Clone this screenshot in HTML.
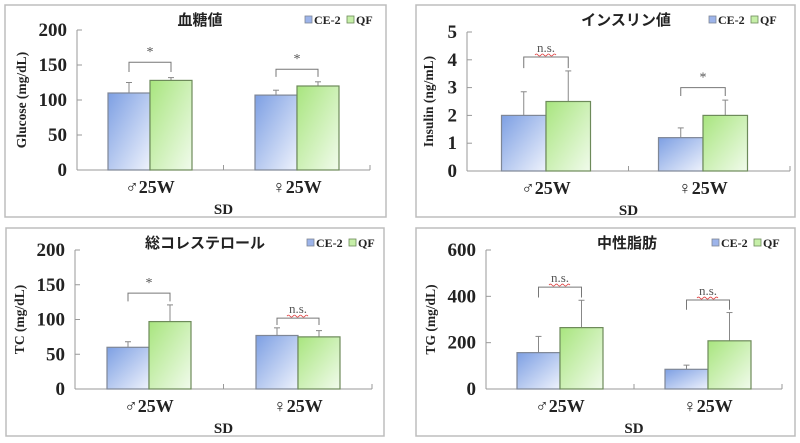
<!DOCTYPE html>
<html><head><meta charset="utf-8">
<style>
body{margin:0;width:800px;height:443px;background:#fff;overflow:hidden}
svg{display:block}
text{font-family:"Liberation Serif","Noto Serif CJK SC",serif}
.t{font-family:"Liberation Sans","Noto Sans CJK JP",sans-serif;font-size:15px;font-weight:bold}
</style></head><body>
<svg id="s" width="800" height="443" xmlns="http://www.w3.org/2000/svg">
<defs>
<linearGradient id="gb" x1="0" y1="0" x2="1" y2="1"><stop offset="0" stop-color="#7d9fe3"/><stop offset="1" stop-color="#eef2fc"/></linearGradient>
<linearGradient id="gg" x1="0" y1="0" x2="1" y2="1"><stop offset="0" stop-color="#a8e57e"/><stop offset="1" stop-color="#f1fbec"/></linearGradient>
</defs>
</svg>
<script>
const categories = ["♂25W","♀25W"];
const series = ["CE-2","QF"];
const glucoseMean = [[110,128],[107,120]];
const glucoseErr = [[15,4],[7,6]];
const glucoseSig = ["*","*"];
const glucoseBr = [[154,140],[144,133]];
const insulinMean = [[2.0,2.5],[1.2,2.0]];
const insulinErr = [[0.85,1.1],[0.35,0.55]];
const insulinSig = ["n.s.","*"];
const insulinBr = [[4.1,3.7],[3.0,2.7]];
const tcMean = [[60,97],[77,75]];
const tcErr = [[8,24],[11,9]];
const tcSig = ["*","n.s."];
const tcBr = [[138,126],[102,92]];
const tgMean = [[157,265],[85,208]];
const tgErr = [[70,118],[18,122]];
const tgSig = ["n.s.","n.s."];
const tgBr = [[440,395],[384,342]];
const glucoseTicks = [0,50,100,150,200];
const insulinTicks = [0,1,2,3,4,5];
const tcTicks = [0,50,100,150,200];
const tgTicks = [0,200,400,600];

const S=document.getElementById('s');
const NS='http://www.w3.org/2000/svg';
function mk(tag,at,parent){const e=document.createElementNS(NS,tag);for(const k in at)e.setAttribute(k,at[k]);(parent||S).appendChild(e);return e;}

function panel(p){
  const g=mk('g',{});
  
  
  const box=mk('rect',{x:p.bx,y:p.by,width:p.bw,height:p.bh,fill:'none',stroke:'#bdbdbd','stroke-width':1.5},g);
  
  
  const max=p.ticks[p.ticks.length-1];
  const y=v=>p.y0-(v/max)*(p.y0-p.ytop);
  const ya=mk('line',{x1:p.ax,y1:p.ytop,x2:p.ax,y2:p.y0,stroke:'#999'},g);
  
  
  const xa=mk('line',{x1:p.ax,y1:p.y0,x2:p.axEnd,y2:p.y0,stroke:'#999'},g);
  
  
  const mid=(p.ax+p.axEnd)/2;
  mk('line',{x1:mid,y1:p.y0,x2:mid,y2:p.y0-5,stroke:'#999'},g);
  mk('line',{x1:p.axEnd,y1:p.y0,x2:p.axEnd,y2:p.y0-5,stroke:'#999'},g);
  p.ticks.forEach(t=>{
    mk('line',{x1:p.ax,y1:y(t),x2:p.ax+5,y2:y(t),stroke:'#999'},g);
    const tx=mk('text',{x:p.ax-10,y:y(t)+6,'text-anchor':'end','font-size':19,'font-weight':'bold',fill:'#222'},g);
    tx.textContent=t;
    
    
  });
  const yt=mk('text',{x:0,y:0,transform:`translate(${p.ax-p.ytOff},${(p.y0+p.ytop)/2}) rotate(-90)`,'text-anchor':'middle','font-size':13.5,'font-weight':'bold',fill:'#222'},g);
  yt.textContent=p.ytitle;
  
  
  categories.forEach((c,i)=>{
    const cx=p.centers[i];
    const bw=p.barW;
    series.forEach((s,j)=>{
      const x0=cx-bw+j*bw;
      const v=p.mean[i][j], e=p.err[i][j];
      const errx=x0+bw/2;
      const el=mk('line',{x1:errx,y1:y(v),x2:errx,y2:y(v+e),stroke:'#888'},g);
      
      
      mk('line',{x1:errx-3,y1:y(v+e),x2:errx+3,y2:y(v+e),stroke:'#888'},g);
      const r=mk('rect',{x:x0,y:y(v),width:bw,height:p.y0-y(v),fill:j==0?'url(#gb)':'url(#gg)',stroke:j==0?'#7f8796':'#6d8a5a','stroke-width':1.2},g);
      
      
    });
    const bt=y(p.br[i][0]), bl=y(p.br[i][1]);
    const lx=cx-bw/2, rx=cx+bw/2;
    const br=mk('path',{d:`M${lx},${bl}V${bt}H${rx}V${bl}`,fill:'none',stroke:'#777'},g);
    
    
    const sg=mk('text',{x:cx,y:bt-(p.sig[i]=='*'?6:5),'text-anchor':'middle','font-size':p.sig[i]=='*'?14:13,fill:'#555'},g);
    sg.textContent=p.sig[i];
    
    
    if(p.sig[i]!='*') mk('path',{d:`M${cx-11},${bt-2} q1.5,-2 3,0 t3,0 t3,0 t3,0 t3,0 t3,0 t3,0`,fill:'none',stroke:'#e04040','stroke-width':0.8},g);
    const cl=mk('text',{x:cx,y:p.y0+23,'text-anchor':'middle','font-size':18,'font-weight':'bold',fill:'#222'},g);
    cl.textContent=c;
    
    
  });
  const xt=mk('text',{x:mid,y:p.y0+44,'text-anchor':'middle','font-size':15,'font-weight':'bold',fill:'#222'},g);
  xt.textContent='SD';
  
  
  const ti=mk('text',{x:p.tx,y:p.by+20,'text-anchor':'middle',class:'t',fill:'#222'},g);
  ti.textContent=p.title;
  
  
  const lx=p.lx, ly=p.by+11;
  const l1=mk('rect',{x:lx,y:ly,width:7,height:7,fill:'#9db4ea',stroke:'#7f8796','stroke-width':0.8},g);
  
  
  const lt1=mk('text',{x:lx+9,y:ly+8,'font-size':12,'font-weight':'bold',fill:'#222'},g);
  lt1.textContent='CE-2';
  
  
  const l2=mk('rect',{x:lx+42,y:ly,width:7,height:7,fill:'#c6efa8',stroke:'#6d8a5a','stroke-width':0.8},g);
  
  
  const lt2=mk('text',{x:lx+51,y:ly+8,'font-size':12,'font-weight':'bold',fill:'#222'},g);
  lt2.textContent='QF';
  
  
}

panel({name:'glucose-panel',bx:5,by:5,bw:381,bh:212,ax:77,axEnd:370,y0:170,ytop:30,ticks:glucoseTicks,mean:glucoseMean,err:glucoseErr,sig:glucoseSig,br:glucoseBr,barW:42,centers:[150,297],ytOff:51,ytitle:'Glucose (mg/dL)',title:'血糖値',tx:200,lx:305});
panel({name:'insulin-panel',bx:416,by:5,bw:379,bh:212,ax:467,axEnd:790,y0:171,ytop:32,ticks:insulinTicks,mean:insulinMean,err:insulinErr,sig:insulinSig,br:insulinBr,barW:44.5,centers:[546,703],ytOff:34,ytitle:'Insulin (ng/mL)',title:'インスリン値',tx:626,lx:709});
panel({name:'tc-panel',bx:6,by:228,bw:378,bh:208,ax:75,axEnd:372,y0:389,ytop:250,ticks:tcTicks,mean:tcMean,err:tcErr,sig:tcSig,br:tcBr,barW:42,centers:[149,298],ytOff:51,ytitle:'TC (mg/dL)',title:'総コレステロール',tx:205,lx:307});
panel({name:'tg-panel',bx:416,by:228,bw:379,bh:208,ax:486,axEnd:782,y0:389,ytop:250,ticks:tgTicks,mean:tgMean,err:tgErr,sig:tgSig,br:tgBr,barW:43,centers:[560,708],ytOff:51,ytitle:'TG (mg/dL)',title:'中性脂肪',tx:627,lx:712});
</script>
</body></html>
